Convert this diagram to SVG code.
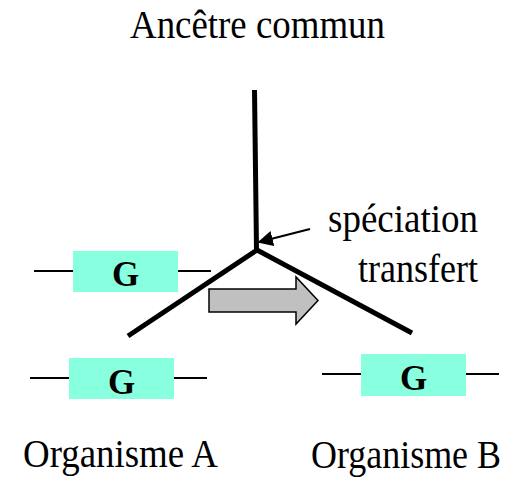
<svg xmlns="http://www.w3.org/2000/svg" width="523" height="482" viewBox="0 0 523 482">
<defs>
<style>
.lbl{font-family:"Liberation Serif","Times New Roman",serif;font-size:37px;fill:#000}
.gene{fill:#88FFDE}
.gl{font-family:"Liberation Serif","Times New Roman",serif;font-size:35px;font-weight:bold;fill:#000}
.wire{stroke:#000;stroke-width:2;fill:none}
.tree{stroke:#000;stroke-width:5;fill:none;stroke-linecap:butt}
</style>
<marker id="ah" viewBox="0 0 10 10" refX="9" refY="5" markerWidth="7" markerHeight="7" orient="auto" markerUnits="strokeWidth">
<path d="M0,0 L10,5 L0,10 z" fill="#000"/>
</marker>
</defs>
<rect width="523" height="482" fill="#fff"/>
<g id="connectors">
<path class="tree" d="M254.5,90 L256.5,250"/>
<path class="tree" d="M257,250 L128,336"/>
<path class="tree" d="M257,250 L412,333"/>
<line x1="310" y1="229" x2="259" y2="242" stroke="#000" stroke-width="2.2" marker-end="url(#ah)"/>
<path d="M209,289 L296,289 L296,277 L318,300.5 L296,324 L296,312 L209,312 Z" fill="#C0C0C0" stroke="#000" stroke-width="1.5"/>
</g>
<g id="ancestor">
<text class="lbl" transform="translate(130,38) scale(1,1.11)" textLength="255" lengthAdjust="spacingAndGlyphs">Ancêtre commun</text>
</g>
<g id="labels">
<text class="lbl" transform="translate(478,232) scale(1,1.11)" text-anchor="end" textLength="150" lengthAdjust="spacingAndGlyphs">spéciation</text>
<text class="lbl" transform="translate(478,282) scale(1,1.11)" text-anchor="end" textLength="120" lengthAdjust="spacingAndGlyphs">transfert</text>
</g>
<g id="gene-top">
<line class="wire" x1="34" y1="271" x2="211" y2="271"/>
<rect class="gene" x="73" y="251" width="105" height="41"/>
<text class="gl" transform="translate(125.5,286) scale(1,1.04)" text-anchor="middle">G</text>
</g>
<g id="gene-a">
<line class="wire" x1="30" y1="378" x2="207" y2="378"/>
<rect class="gene" x="69" y="358" width="105" height="41"/>
<text class="gl" transform="translate(121.5,394) scale(1,1.04)" text-anchor="middle">G</text>
</g>
<g id="gene-b">
<line class="wire" x1="322" y1="374" x2="499" y2="374"/>
<rect class="gene" x="361" y="354" width="105" height="42"/>
<text class="gl" transform="translate(413.5,390) scale(1,1.04)" text-anchor="middle">G</text>
</g>
<g id="organism-a">
<text class="lbl" transform="translate(23,467) scale(1,1.11)" textLength="195" lengthAdjust="spacingAndGlyphs">Organisme A</text>
</g>
<g id="organism-b">
<text class="lbl" transform="translate(311,468) scale(1,1.11)" textLength="190" lengthAdjust="spacingAndGlyphs">Organisme B</text>
</g>
</svg>
